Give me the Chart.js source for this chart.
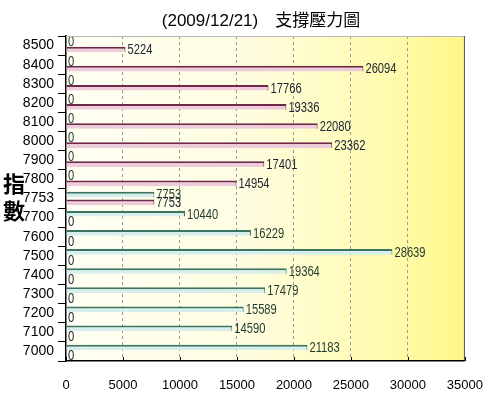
<!DOCTYPE html>
<html>
<head>
<meta charset="utf-8">
<script src="https://cdn.jsdelivr.net/npm/chart.js@4"></script>
<style>
body{margin:0;background:#fff;}
</style>
</head>
<body>
<canvas id="c" width="500" height="399"></canvas>
<script>
// 指數 categories, top to bottom
const labels = ['8500','8400','8300','8200','8100','8000','7900','7800','7753','7700','7600','7500','7400','7300','7200','7100','7000'];

// support (green) and pressure (pink) volumes
const support  = [0,0,0,0,0,0,0,0,7753,10440,16229,28639,19364,17479,15589,14590,21183];
const pressure = [5224,26094,17766,19336,22080,23362,17401,14954,7753,0,0,0,0,0,0,0,0];

const xTicks = [0,5000,10000,15000,20000,25000,30000,35000];

const chartTitle = '(2009/12/21)\u3000支撐壓力圖';
const yTitle = ['指','數'];

const numFont = '"Liberation Sans", Arial, sans-serif';

// background, borders, value labels, titles
const decor = {
  id:'decor',
  beforeDraw(chart){
    const {ctx, chartArea:a} = chart;
    const g = ctx.createLinearGradient(a.left,0,a.right,0);
    g.addColorStop(0,'#fffff4');
    g.addColorStop(0.45,'#fffde0');
    g.addColorStop(0.8,'#fffbb0');
    g.addColorStop(1,'#fff788');
    ctx.save();
    ctx.fillStyle = g;
    ctx.fillRect(a.left,a.top,a.right-a.left,a.bottom-a.top);
    ctx.restore();
  },
  afterDatasetsDraw(chart){
    const {ctx} = chart;
    ctx.save();
    ctx.font = '14px ' + numFont;
    ctx.textBaseline = 'middle';
    ctx.textAlign = 'left';
    chart.data.datasets.forEach((ds,i)=>{
      chart.getDatasetMeta(i).data.forEach((bar,j)=>{
        ctx.save();
        ctx.translate(bar.x + 2, bar.y + 1);
        ctx.scale(0.8,1);
        ctx.fillStyle = ds.labelColor;
        ctx.fillText(String(ds.data[j]), 0, 0);
        ctx.restore();
      });
    });
    ctx.restore();
  },
  afterDraw(chart){
    const {ctx, chartArea:a} = chart;
    ctx.save();
    ctx.strokeStyle = '#b8b8b8';
    ctx.lineWidth = 1;
    ctx.beginPath();
    ctx.moveTo(a.left, a.top+0.5);
    ctx.lineTo(a.right, a.top+0.5);
    ctx.stroke();
    ctx.strokeStyle = '#555';
    ctx.beginPath();
    ctx.moveTo(a.right-0.5, a.top);
    ctx.lineTo(a.right-0.5, a.bottom);
    ctx.stroke();

    // small inner ticks on x axis
    const xs = chart.scales.x;
    ctx.strokeStyle = '#000';
    xTicks.forEach(v=>{
      const px = Math.round(xs.getPixelForValue(v)) + 0.5;
      ctx.beginPath();
      ctx.moveTo(px, a.bottom);
      ctx.lineTo(px, a.bottom-4);
      ctx.stroke();
    });

    ctx.fillStyle = '#000';
    ctx.textAlign = 'center';
    ctx.textBaseline = 'middle';
    ctx.font = '17px "Liberation Sans", "Noto Sans CJK TC", sans-serif';
    ctx.fillText(chartTitle, 261, 21);
    ctx.font = 'bold 22px "Noto Sans CJK TC", sans-serif';
    ctx.fillText(yTitle[0], 14, 184);
    ctx.fillText(yTitle[1], 14, 211);
    ctx.restore();
  }
};

new Chart(document.getElementById('c'), {
  type:'bar',
  data:{
    labels:labels,
    datasets:[
      {
        label:'支撐',
        data:support,
        backgroundColor:'#d6eeec',
        borderColor:'#3c7462',
        borderWidth:{top:2,right:1,bottom:0,left:0},
        borderSkipped:false,
        labelColor:'#1f3a2e',
        barPercentage:0.72,
        categoryPercentage:0.82
      },
      {
        label:'壓力',
        data:pressure,
        backgroundColor:'#eeccdb',
        borderColor:'#6e2848',
        borderWidth:{top:2,right:1,bottom:0,left:0},
        borderSkipped:false,
        labelColor:'#1c2233',
        barPercentage:0.72,
        categoryPercentage:0.82
      }
    ]
  },
  options:{
    indexAxis:'y',
    responsive:false,
    devicePixelRatio:1,
    animation:false,
    layout:{padding:{top:36,right:23,left:0,bottom:0}},
    plugins:{
      legend:{display:false},
      tooltip:{enabled:false}
    },
    scales:{
      x:{
        min:0,
        max:35000,
        afterBuildTicks(scale){
          scale.ticks = xTicks.map(v=>({value:v}));
        },
        afterFit(scale){ scale.height = 38; },
        grid:{
          color:ctx => (ctx.index===0 || ctx.index===xTicks.length-1) ? 'rgba(0,0,0,0)' : '#9a9a9a',
          drawTicks:false
        },
        border:{color:'#000',width:1.5,dash:[3,3]},
        ticks:{
          color:'#000',
          padding:17,
          font:{family:numFont,size:13},
          callback:v => String(v)
        }
      },
      y:{
        afterFit(scale){ scale.width = 66; },
        grid:{
          drawOnChartArea:false,
          color:'#000',
          tickLength:8
        },
        border:{color:'#000',width:1.5},
        ticks:{
          color:'#000',
          padding:4,
          autoSkip:false,
          font:{family:numFont,size:14}
        }
      }
    }
  },
  plugins:[decor]
});
</script>
</body>
</html>
